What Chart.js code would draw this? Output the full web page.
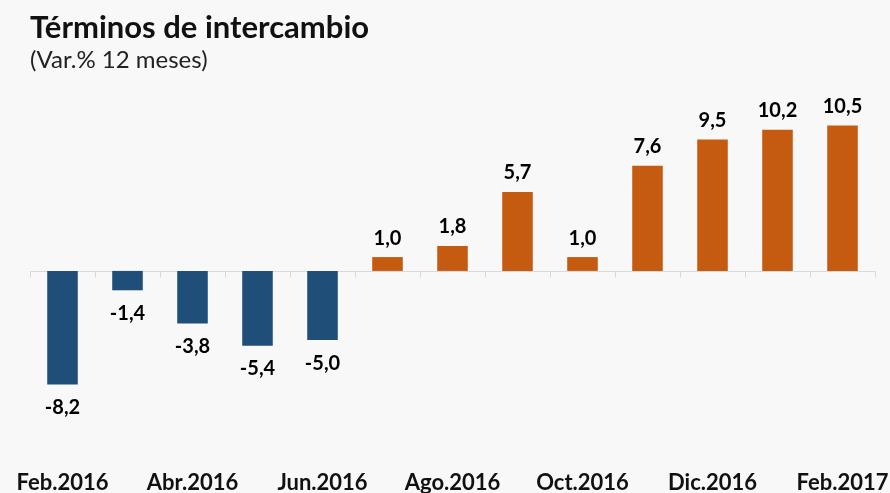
<!DOCTYPE html>
<html lang="es">
<head>
  <meta charset="UTF-8">
  <title>Términos de intercambio</title>
  <script src="https://cdn.jsdelivr.net/npm/chart.js"></script>
  <style>
    html, body { margin: 0; padding: 0; background: #f8f8f8; }
    #wrap { width: 890px; height: 493px; }
  </style>
</head>
<body>
  <div id="wrap"><canvas id="chart"></canvas></div>
  <script>
    // datos (Var.% 12 meses)
    const meses = ['Feb.2016', 'Mar.2016', 'Abr.2016', 'May.2016', 'Jun.2016', 'Jul.2016', 'Ago.2016',
                   'Set.2016', 'Oct.2016', 'Nov.2016', 'Dic.2016', 'Ene.2017', 'Feb.2017'];
    const variacion = [-8.2, -1.4, -3.8, -5.4, -5.0, 1.0, 1.8, 5.7, 1.0, 7.6, 9.5, 10.2, 10.5];
    // solo se rotula un mes de cada dos
    const rotulos = meses.map((m, i) => i % 2 === 0 ? m : '');

    const AZUL = '#1f4e79';
    const NARANJA = '#c55a11';

    // linea del cero con marcas entre categorias, etiquetas de valor y meses
    const ejeCero = {
      id: 'ejeCero',
      beforeDatasetsDraw(chart) {
        const { ctx, chartArea, scales: { x, y } } = chart;
        const y0 = Math.round(y.getPixelForValue(0)) + 0.5;
        const paso = x.getPixelForValue(1) - x.getPixelForValue(0);
        ctx.save();
        ctx.strokeStyle = '#d9d9d9';
        ctx.lineWidth = 1;
        ctx.beginPath();
        ctx.moveTo(chartArea.left, y0);
        ctx.lineTo(chartArea.right, y0);
        for (let i = 0; i <= meses.length; i++) {
          const xx = Math.round(x.getPixelForValue(i) - paso / 2) + 0.5;
          ctx.moveTo(xx, y0);
          ctx.lineTo(xx, y0 + 6);
        }
        ctx.stroke();
        ctx.restore();
      },
      afterDatasetsDraw(chart) {
        const { ctx, chartArea, scales: { x } } = chart;
        const meta = chart.getDatasetMeta(0);
        ctx.save();
        ctx.font = 'bold 20px Lato';
        ctx.fillStyle = '#000';
        ctx.textAlign = 'center';
        ctx.textBaseline = 'middle';
        meta.data.forEach((bar, i) => {
          const v = variacion[i];
          const txt = v.toFixed(1).replace('.', ',');
          const yy = v >= 0 ? bar.y - 19 : bar.y + 23;
          ctx.fillText(txt, bar.x, yy);
        });
        // meses bajo el grafico
        ctx.font = 'bold 22px Lato';
        ctx.fillStyle = '#111';
        rotulos.forEach((r, i) => {
          if (r) ctx.fillText(r, x.getPixelForValue(i), chartArea.bottom + 46);
        });
        ctx.restore();
      }
    };

    new Chart(document.getElementById('chart'), {
      type: 'bar',
      data: {
        labels: meses,
        datasets: [{
          data: variacion,
          backgroundColor: variacion.map(v => v < 0 ? AZUL : NARANJA),
          borderWidth: 0,
          categoryPercentage: 1,
          barPercentage: 0.47
        }]
      },
      options: {
        responsive: true,
        maintainAspectRatio: false,
        animation: false,
        layout: { padding: { top: 9, left: 30, right: 15, bottom: 56 } },
        plugins: {
          legend: { display: false },
          tooltip: { enabled: false },
          title: {
            display: true,
            text: 'Términos de intercambio',
            align: 'start',
            color: '#111',
            font: { family: 'Lato', size: 31, weight: 'bold' },
            padding: { top: 0, bottom: 0 }
          },
          subtitle: {
            display: true,
            text: '(Var.% 12 meses)',
            align: 'start',
            color: '#222',
            font: { family: 'Lato', size: 24 },
            padding: { top: 0, bottom: 16 }
          }
        },
        scales: {
          x: {
            display: false
          },
          y: {
            display: false,
            min: -12,
            max: 13
          }
        }
      },
      plugins: [ejeCero]
    });
  </script>
</body>
</html>
